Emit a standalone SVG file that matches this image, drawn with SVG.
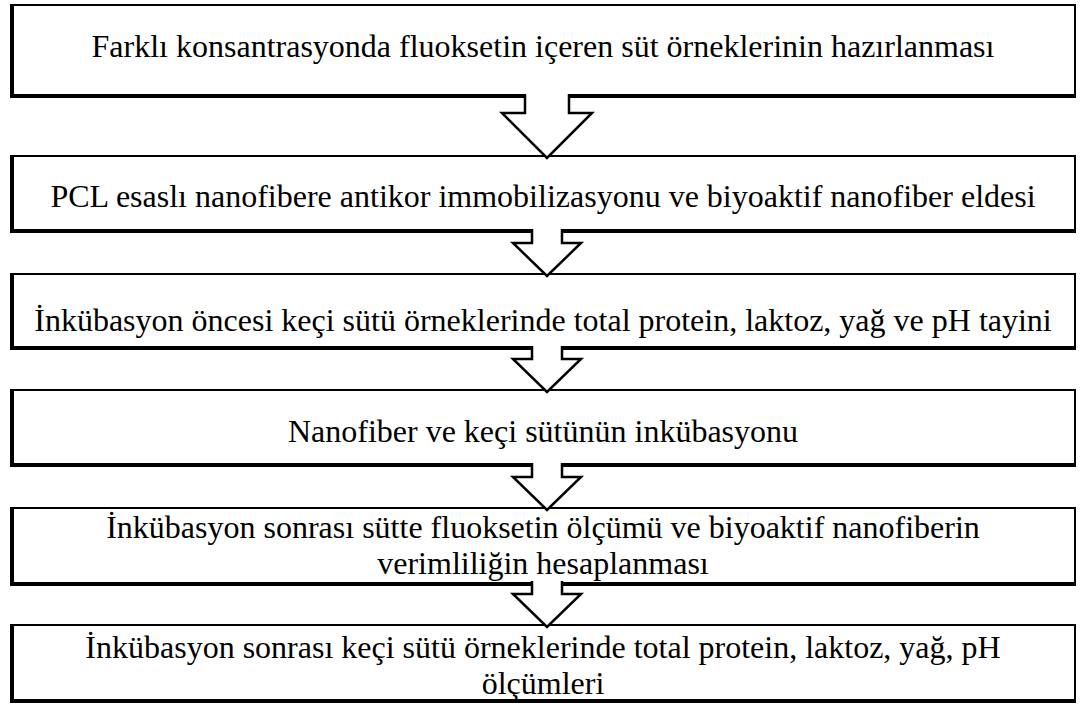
<svg xmlns="http://www.w3.org/2000/svg" width="1080" height="707" viewBox="0 0 1080 707">
<style>
.box{fill:#fff;stroke:#000;stroke-width:2}
.shadow{fill:none;stroke:#000;stroke-width:4}
.arrow{fill:#fff;stroke:#000;stroke-width:2.5;stroke-linejoin:miter}
text{font-family:"Liberation Serif","Times New Roman",Tinos,"DejaVu Serif",serif;font-size:32px;fill:#000;text-anchor:middle}
</style>
<rect width="1080" height="707" fill="#fff"/>
<g id="node1">
<rect class="box" x="11" y="5" width="1064" height="92"/>
<path class="shadow" d="M12,5 V96 H1075"/>
<text x="543" y="57">Farklı konsantrasyonda fluoksetin içeren süt örneklerinin hazırlanması</text>
</g>
<g id="node2">
<rect class="box" x="11" y="156" width="1064" height="76"/>
<path class="shadow" d="M12,156 V231 H1075"/>
<text x="543" y="207">PCL esaslı nanofibere antikor immobilizasyonu ve biyoaktif nanofiber eldesi</text>
</g>
<g id="node3">
<rect class="box" x="11" y="274" width="1064" height="75"/>
<path class="shadow" d="M12,274 V348 H1075"/>
<text x="543" y="331">İnkübasyon öncesi keçi sütü örneklerinde total protein, laktoz, yağ ve pH tayini</text>
</g>
<g id="node4">
<rect class="box" x="11" y="390" width="1064" height="76"/>
<path class="shadow" d="M12,390 V465 H1075"/>
<text x="543" y="442">Nanofiber ve keçi sütünün inkübasyonu</text>
</g>
<g id="node5">
<rect class="box" x="11" y="508" width="1064" height="77"/>
<path class="shadow" d="M12,508 V584 H1075"/>
<text x="543" y="538">İnkübasyon sonrası sütte fluoksetin ölçümü ve biyoaktif nanofiberin</text>
<text x="543" y="573.5">verimliliğin hesaplanması</text>
</g>
<g id="node6">
<rect class="box" x="11" y="625" width="1064" height="77"/>
<path class="shadow" d="M12,625 V701 H1075"/>
<text x="543" y="658">İnkübasyon sonrası keçi sütü örneklerinde total protein, laktoz, yağ, pH</text>
<text x="543" y="693.5">ölçümleri</text>
</g>
<g id="connectors">
<path class="arrow" d="M525,94 V113 H502 L547,158 L592,113 H569 V94"/>
<path class="arrow" d="M532,229 V243 H513 L547,276 L581,243 H562 V229"/>
<path class="arrow" d="M532,346 V359 H513 L547,392 L581,359 H562 V346"/>
<path class="arrow" d="M532,463 V477 H513 L547,510 L581,477 H562 V463"/>
<path class="arrow" d="M532,581 V594 H513 L547,627 L581,594 H562 V581"/>
</g>
</svg>
